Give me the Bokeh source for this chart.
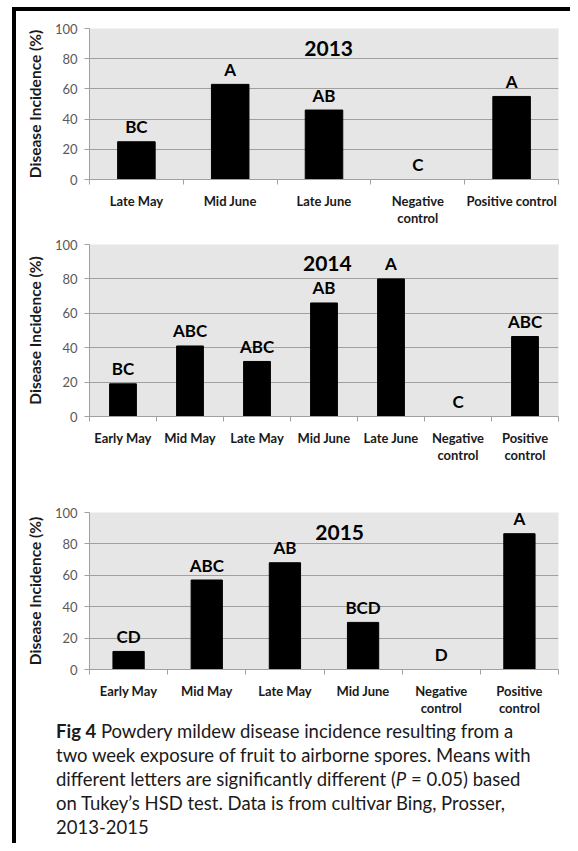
from bokeh.plotting import figure
from bokeh.models import Range1d, FixedTicker, Div
from bokeh.layouts import column, row
from bokeh.core.properties import value
from bokeh.embed import file_html
from bokeh.resources import INLINE

# ---------------- data ----------------
years = ["2013", "2014", "2015"]

cats_2013 = ["Late May", "Mid June", "Late June", "Negative\ncontrol", "Positive control"]
vals_2013 = [25, 63, 46, 0, 55]
letters_2013 = ["BC", "A", "AB", "C", "A"]

cats_2014 = ["Early May", "Mid May", "Late May", "Mid June", "Late June",
             "Negative\ncontrol", "Positive\ncontrol"]
vals_2014 = [19, 41, 32, 66, 80, 0, 46.5]
letters_2014 = ["BC", "ABC", "ABC", "AB", "A", "C", "ABC"]

cats_2015 = ["Early May", "Mid May", "Late May", "Mid June",
             "Negative\ncontrol", "Positive\ncontrol"]
vals_2015 = [11.5, 57, 68, 30, 0, 86.5]
letters_2015 = ["CD", "ABC", "AB", "BCD", "D", "A"]

y_ticks = [0, 20, 40, 60, 80, 100]
y_label = "Disease Incidence (%)"

caption_html = ("<b>Fig 4</b> Powdery mildew disease incidence resulting from a<br>"
                "two week exposure of fruit to airborne spores. Means with<br>"
                "different letters are significantly different (<i>P</i> = 0.05) based<br>"
                "on Tukey\u2019s HSD test. Data is from cultivar Bing, Prosser,<br>"
                "2013-2015")

FONT = "Lato"


def panel(cats, vals, letters, year, year_pos, fig_w, fig_h, b_left, b_right, b_top, b_bottom):
    n = len(cats)
    centers = [i + 0.5 for i in range(n)]
    p = figure(width=fig_w, height=fig_h, output_backend="svg", toolbar_location=None,
               x_range=Range1d(0, n), y_range=Range1d(0, 100),
               min_border_left=b_left, min_border_right=b_right,
               min_border_top=b_top, min_border_bottom=b_bottom)
    p.background_fill_color = "#e6e6e6"
    p.border_fill_color = "white"
    p.outline_line_color = None

    p.vbar(x=centers, top=vals, width=0.4, fill_color="black", line_color="black")
    p.text(x=centers, y=vals, text=letters, text_align="center", text_baseline="middle",
           y_offset=-15, text_font=value(FONT), text_font_style="bold",
           text_font_size="17px", text_color="black")
    p.text(x=[year_pos[0]], y=[year_pos[1]], text=[year], text_align="center",
           text_baseline="middle", text_font=value(FONT), text_font_style="bold",
           text_font_size="21px", text_color="black")

    # grid
    p.xgrid.visible = False
    p.ygrid.ticker = FixedTicker(ticks=y_ticks)
    p.ygrid.grid_line_color = "#a0a0a0"

    # y axis
    ya = p.yaxis[0]
    ya.ticker = FixedTicker(ticks=y_ticks)
    ya.axis_line_color = "#a0a0a0"
    ya.major_tick_line_color = "#a0a0a0"
    ya.major_tick_out = 5
    ya.major_tick_in = 0
    ya.minor_tick_line_color = None
    ya.major_label_standoff = 7
    ya.major_label_text_font = FONT
    ya.major_label_text_font_size = "13px"
    ya.major_label_text_color = "#595959"
    ya.axis_label = y_label
    ya.axis_label_text_font = FONT
    ya.axis_label_text_font_style = "bold"
    ya.axis_label_text_font_size = "15.5px"
    ya.axis_label_text_color = "#1a1a1a"
    ya.axis_label_standoff = 8

    # x axis: labels at centers, ticks at category boundaries
    xa = p.xaxis[0]
    xa.ticker = FixedTicker(ticks=centers, minor_ticks=list(range(n + 1)))
    xa.major_label_overrides = {c: lab for c, lab in zip(centers, cats)}
    xa.axis_line_color = "#a0a0a0"
    xa.major_tick_line_color = None
    xa.major_tick_out = 0
    xa.major_tick_in = 0
    xa.minor_tick_line_color = "#a0a0a0"
    xa.minor_tick_out = 5
    xa.minor_tick_in = 0
    xa.major_label_standoff = 8
    xa.major_label_text_font = FONT
    xa.major_label_text_font_style = "bold"
    xa.major_label_text_font_size = "13px"
    xa.major_label_text_color = "#1a1a1a"
    xa.major_label_text_line_height = 1.1
    return p


W = 554
p1 = panel(cats_2013, vals_2013, letters_2013, years[0], (2.55, 86.5), W, 218, 73, 12, 17, 48)
p2 = panel(cats_2014, vals_2014, letters_2014, years[1], (3.55, 89), W, 258, 72, 12, 15, 71)
p3 = panel(cats_2015, vals_2015, letters_2015, years[2], (3.2, 87.5), W, 232, 72, 3, 25, 50)

caption = Div(text='<div style="font-family:Lato;font-size:18.5px;line-height:24px;color:#1a1a1a;'
              'white-space:nowrap">' + caption_html + '</div>',
              width=W - 40, height=124, margin=(0, 0, 0, 40))

top_bar = Div(text="", width=558, height=4, margin=(0, 0, 0, 4),
              styles={"background-color": "black"})
left_bar = Div(text="", width=4, height=832, margin=(0, 0, 0, 4),
               styles={"background-color": "black"})

layout = column(top_bar, row(left_bar, column(p1, p2, p3, caption, spacing=0), spacing=0),
                spacing=0, margin=(7, 0, 0, 8))

open("out.html", "w").write(file_html(layout, INLINE))
